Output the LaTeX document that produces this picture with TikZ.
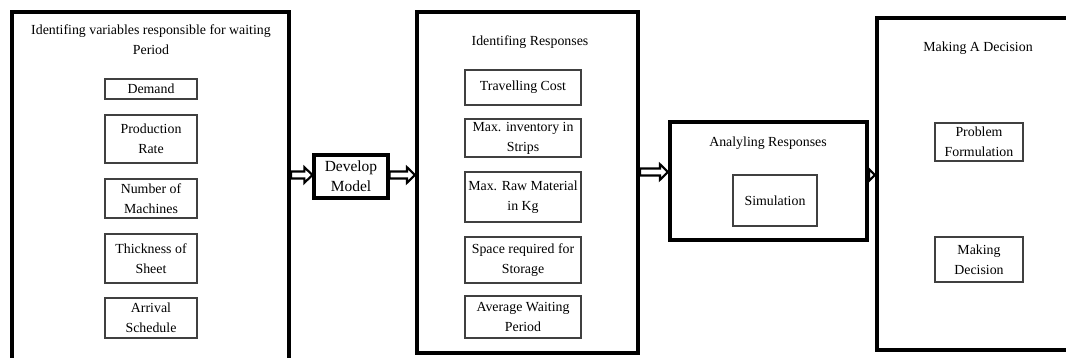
\documentclass[tikz,border=0pt]{standalone}
\usepackage{fontspec}
\setmainfont{Liberation Serif}
\usetikzlibrary{calc,fit}
\begin{document}
\begin{tikzpicture}[x=0.75pt,y=-0.75pt,
  every node/.style={font=\fontsize{10.4}{15}\selectfont, align=center},
  bigbox/.style={draw, line width=3pt, inner sep=0pt},
  ibox/.style={draw=black!75, line width=0.8pt, inner sep=0pt},
  lbl/.style={inner sep=0pt},
  txt/.style={label={[lbl]center:#1}},
  blockarrow/.style={draw, fill=white, line width=1.6pt, to path={
    let \p1=(\tikztostart), \p2=(\tikztotarget) in
    (\x1,\y1+2.6pt) -- (\x2-6pt,\y1+2.6pt) -- (\x2-6pt,\y1+5.8pt) -- (\x2,\y1)
    -- (\x2-6pt,\y1-5.8pt) -- (\x2-6pt,\y1-2.6pt) -- (\x1,\y1-2.6pt) -- cycle}}
]
\useasboundingbox (0,0) rectangle (1066,357);
\clip (0,0) rectangle (1066,357);

% left column
\node[bigbox, fit={(12,12)(289,385)}] (L) {};
\node[lbl] (Lt) at (151,40) {Identifing variables responsible for waiting\\Period};
\node[ibox, fit={(105,79)(197,99)}, txt={Demand}] (v1) {};
\node[ibox, fit={(105,115)(197,163)}, txt={Production\\Rate}] (v2) {};
\node[ibox, fit={(105,179)(197,218)}, txt={Number of\\Machines}] (v3) {};
\node[ibox, fit={(105,234)(197,283)}, txt={Thickness of\\Sheet}] (v4) {};
\node[ibox, fit={(105,298)(197,338)}, txt={Arrival\\Schedule}] (v5) {};

% develop model
\node[bigbox, line width=2.4pt, fit={(314,155)(388,198)},
      label={[lbl,font=\fontsize{11.6}{15}\selectfont]center:Develop\\Model}] (DM) {};

% middle column
\node[bigbox, fit={(417,12)(638,353)}] (M) {};
\node[lbl] (Mt) at (530,42) {Identifing Responses};
\node[ibox, fit={(465,70)(581,105)}, txt={Travelling Cost}] (r1) {};
\node[ibox, fit={(465,119)(581,157)}, txt={Max. inventory in\\Strips}] (r2) {};
\node[ibox, fit={(465,172)(581,222)}, txt={Max. Raw Material\\in Kg}] (r3) {};
\node[ibox, fit={(465,237)(581,283)}, txt={Space required for\\Storage}] (r4) {};
\node[ibox, fit={(465,296)(581,338)}, txt={Average Waiting\\Period}] (r5) {};

% analysing
\node[bigbox, fit={(670,122)(867,240)}] (A) {};
\node[lbl] (At) at (768,143) {Analyling Responses};
\node[ibox, fit={(733,175)(817,226)}, txt={Simulation}] (S) {};

% decision
\node[bigbox, fit={(877,18)(1095,350)}] (R) {};
\node[lbl] (Rt) at (978,48) {Making A Decision};
\node[ibox, fit={(935,123)(1023,161)}, txt={Problem\\Formulation}] (p1) {};
\node[ibox, fit={(935,237)(1023,282)}, txt={Making\\Decision}] (p2) {};

% arrows
\coordinate (ay) at (0,175);
\coordinate (ay3) at (0,172);
\draw[blockarrow] (L.east |- ay) to (DM.west |- ay);
\draw[blockarrow] (DM.east |- ay) to (M.west |- ay);
\draw[blockarrow] (M.east |- ay3) to (A.west |- ay3);
\draw[blockarrow] (A.east |- ay) to (R.west |- ay);
\end{tikzpicture}
\end{document}
